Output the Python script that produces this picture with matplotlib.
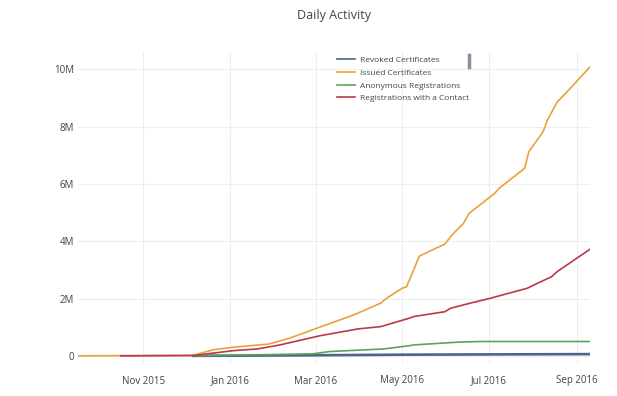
import matplotlib
matplotlib.use("Agg")
import matplotlib.pyplot as plt
import matplotlib.dates as mdates
import matplotlib.ticker as mticker
from matplotlib.lines import Line2D
import pandas as pd

plt.rcParams['font.family'] = ['Open Sans', 'DejaVu Sans']

# ---- data (values in millions) ----
issued_dates = ["2015-09-16", "2015-12-06", "2015-12-20", "2016-01-03", "2016-01-28",
                "2016-02-12", "2016-03-04", "2016-03-28", "2016-04-16", "2016-04-20",
                "2016-05-01", "2016-05-04", "2016-05-08", "2016-05-13", "2016-05-31",
                "2016-06-05", "2016-06-13", "2016-06-17", "2016-06-26", "2016-07-05",
                "2016-07-08", "2016-07-26", "2016-07-29", "2016-08-08", "2016-08-11",
                "2016-08-18", "2016-08-26", "2016-09-10"]
issued_vals = [0.0, 0.02, 0.21, 0.30, 0.41, 0.62, 1.00, 1.43, 1.84, 2.01,
               2.36, 2.41, 2.88, 3.48, 3.90, 4.22, 4.62, 4.97, 5.32, 5.67,
               5.84, 6.54, 7.12, 7.82, 8.22, 8.86, 9.27, 10.08]

contact_dates = ["2015-10-16", "2015-12-06", "2016-01-03", "2016-01-20", "2016-02-05",
                 "2016-03-04", "2016-03-31", "2016-04-16", "2016-05-07", "2016-05-09",
                 "2016-05-31", "2016-06-04", "2016-06-18", "2016-07-02", "2016-07-28",
                 "2016-08-04", "2016-08-14", "2016-08-18", "2016-09-10"]
contact_vals = [0.0, 0.01, 0.18, 0.24, 0.38, 0.70, 0.94, 1.02, 1.33, 1.37,
                1.54, 1.66, 1.84, 2.01, 2.36, 2.53, 2.76, 2.94, 3.72]

anon_dates = ["2015-12-06", "2016-02-28", "2016-03-11", "2016-04-18", "2016-05-07",
              "2016-05-09", "2016-06-10", "2016-06-25", "2016-09-10"]
anon_vals = [0.0, 0.07, 0.15, 0.24, 0.36, 0.38, 0.48, 0.50, 0.50]

revoked_dates = ["2015-12-06", "2016-03-01", "2016-05-01", "2016-07-01", "2016-09-10"]
revoked_vals = [0.0, 0.02, 0.04, 0.05, 0.06]

series_names = ["Revoked Certificates", "Issued Certificates",
                "Anonymous Registrations", "Registrations with a Contact"]
series_colors = ["#4a6688", "#e9a23b", "#5ea35c", "#b8394b"]

# ---- figure ----
W, H = 617, 396
fig = plt.figure(figsize=(W / 100, H / 100), dpi=100)
ax = fig.add_axes([78 / W, 1 - 363 / H, (590 - 78) / W, (363 - 52) / H])

ax.plot(pd.to_datetime(revoked_dates), revoked_vals, color=series_colors[0], lw=1.9, zorder=3)
ax.plot(pd.to_datetime(issued_dates), issued_vals, color=series_colors[1], lw=1.2, zorder=4)
ax.plot(pd.to_datetime(anon_dates), anon_vals, color=series_colors[2], lw=1.2, zorder=3)
ax.plot(pd.to_datetime(contact_dates), contact_vals, color=series_colors[3], lw=1.2, zorder=4)

ax.set_xlim(pd.Timestamp("2015-09-16"), pd.Timestamp("2016-09-10"))
ax.set_ylim(-0.25, 10.6)

ax.axhline(0, color="#cccccc", lw=0.8, zorder=1)

ax.xaxis.set_major_locator(mdates.MonthLocator(bymonth=[1, 3, 5, 7, 9, 11]))
ax.xaxis.set_major_formatter(mdates.DateFormatter("%b %Y"))
ax.yaxis.set_major_locator(mticker.FixedLocator([0, 2, 4, 6, 8, 10]))
ax.yaxis.set_major_formatter(mticker.FuncFormatter(lambda v, p: "0" if v == 0 else f"{int(v)}M"))

ax.grid(True, color="#eeeeee", lw=0.8, zorder=0)
for s in ax.spines.values():
    s.set_visible(False)
ax.tick_params(axis="both", length=0, labelsize=7, colors="#444444")
ax.tick_params(axis="x", pad=9)
ax.tick_params(axis="y", pad=3)

fig.text(334 / W, 1 - 15 / H, "Daily Activity", ha="center", va="center",
         fontsize=9, color="#444444")

handles = [Line2D([], [], color=c, lw=1.2) for c in series_colors]
leg = fig.legend(handles, series_names, loc="upper left",
                 bbox_to_anchor=(337 / W, 1 - 56 / H),
                 frameon=False, fontsize=6.0, handlelength=2.2, handletextpad=0.5,
                 labelspacing=0.6, borderaxespad=0, borderpad=0)
for t in leg.get_texts():
    t.set_color("#444444")

# small grey marker near legend
fig.add_artist(Line2D([469 / W, 469 / W], [1 - 55 / H, 1 - 67 / H],
                      color="#8a8fa0", lw=2.5))

fig.savefig("out.png", dpi=100)
